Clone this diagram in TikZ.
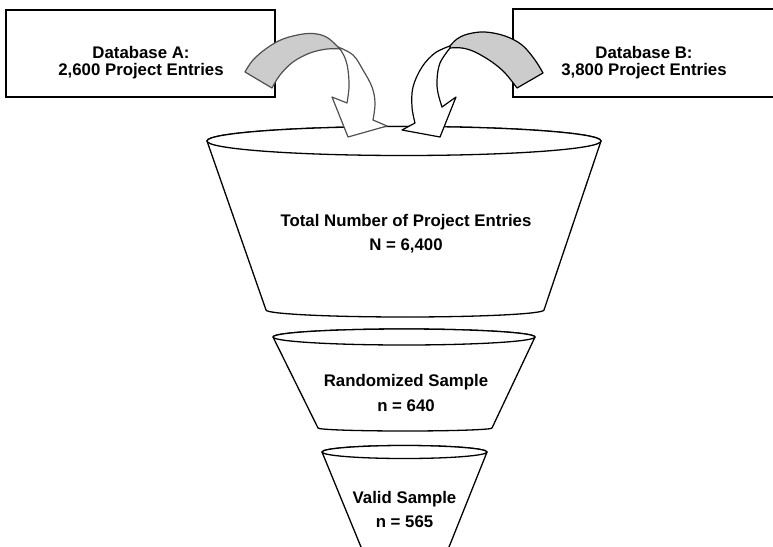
\documentclass[tikz,border=0pt]{standalone}
\usepackage{fontspec}
\setmainfont{Liberation Sans}
\definecolor{bandgray}{RGB}{204,204,204}
\definecolor{edgeA}{RGB}{80,80,80}
\begin{document}
\begin{tikzpicture}[x=1pt,y=-1pt,
  cone/.style={draw=black, line width=1.3pt, fill=white, line join=round},
  dbbox/.style={draw=black, line width=1.4pt, fill=white},
  boxlbl/.style={font=\fontsize{16.8}{17}\bfseries\selectfont, align=center, inner sep=0pt},
  conelbl/.style={font=\fontsize{16.8}{23.5}\bfseries\selectfont, align=center, inner sep=0pt},
  arrA/.style={draw=edgeA, line width=1.2pt, line join=round},
  arrB/.style={draw=black, line width=1.2pt, line join=round}]
\useasboundingbox (0,0) rectangle (773,546);
\clip (0,0) rectangle (773,546);

% big cone
\path[cone] (207,141) -- (266,310) arc[start angle=180, end angle=0, x radius=139, y radius=7]
  -- (601,141) arc[start angle=0, end angle=-180, x radius=197, y radius=14.5] -- cycle;
\path[cone] (404,141) ellipse[x radius=197, y radius=14.5];
\node[conelbl] (total) at (406,233.5) {Total Number of Project Entries\\N = 6,400};

% middle cone
\path[cone] (273,337) -- (318,428) arc[start angle=180, end angle=0, x radius=87, y radius=3]
  -- (535,337) arc[start angle=0, end angle=-180, x radius=131, y radius=8] -- cycle;
\path[cone] (404,337) ellipse[x radius=131, y radius=8];
\node[conelbl, font=\fontsize{16.8}{25.5}\bfseries\selectfont] (rand) at (406,393) {Randomized Sample\\n = 640};

% small cone
\path[cone] (322,452) -- (361,547) arc[start angle=180, end angle=0, x radius=44, y radius=3]
  -- (487,452) arc[start angle=0, end angle=-180, x radius=82.5, y radius=6.5] -- cycle;
\path[cone] (404.5,452) ellipse[x radius=82.5, y radius=6.5];
\node[conelbl] (valid) at (404.5,509.25) {Valid Sample\\n = 565};

% database boxes
\path[dbbox] (6,10) rectangle (275,97);
\node[boxlbl] (dba) at (141,63) {Database A:\\2,600 Project Entries};
\path[dbbox] (513,9) rectangle (778,97);
\node[boxlbl] (dbb) at (644,63) {Database B:\\3,800 Project Entries};

% curved arrow A
\path[arrA, fill=bandgray] plot[smooth, tension=0.6] coordinates {(245,72) (253,60) (267,48) (283,39) (303,34) (317,34) (328,38) (338,47)}
  -- (340,49) -- plot[smooth, tension=0.6] coordinates {(340,49) (327,49) (310,53) (293,62) (280,75) (272,88)} -- cycle;
\path[arrA, fill=white] plot[smooth, tension=0.6] coordinates {(338,47) (353,55) (363,70) (372,87) (375,103) (373,120)}
  -- (387,126) -- (348,137) -- (332,97) -- (347,103)
  -- plot[smooth, tension=0.6] coordinates {(347,103) (349,87) (348,70) (345,58) (340,49)} -- cycle;

% curved arrow B
\path[arrB, fill=bandgray] plot[smooth, tension=0.6] coordinates {(543,73) (535,60) (522,45) (505,36) (485,32) (468,34) (457,39) (450,46)}
  -- (450,48) -- plot[smooth, tension=0.6] coordinates {(450,48) (462,48) (475,52) (492,62) (505,73) (517,88)} -- cycle;
\path[arrB, fill=white] plot[smooth, tension=0.6] coordinates {(450,46) (435,53) (422,67) (413,87) (412,107) (415,123)}
  -- (402,130) -- (440,137) -- (456,97) -- (442,107)
  -- plot[smooth, tension=0.6] coordinates {(442,107) (438,93) (437,80) (440,63) (450,48)} -- cycle;
\end{tikzpicture}
\end{document}
